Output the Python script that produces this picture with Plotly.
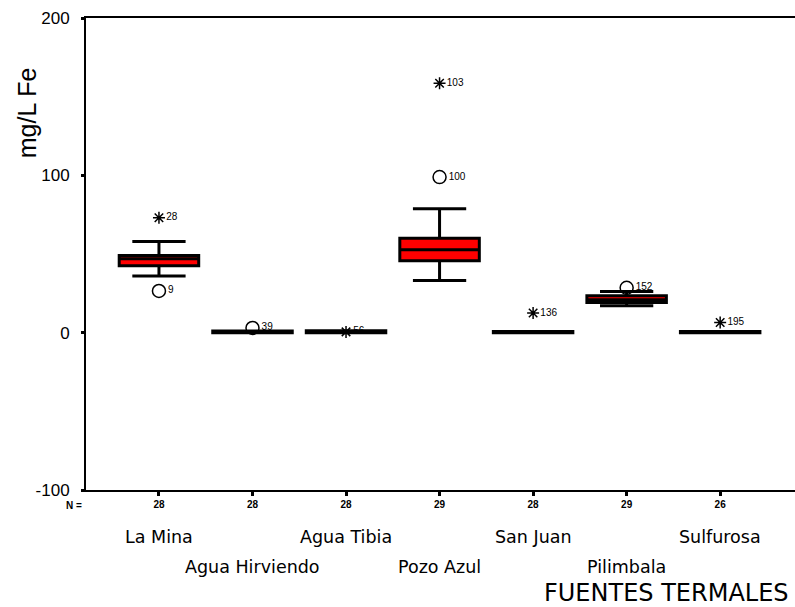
import plotly.graph_objects as go

categories = ["La Mina", "Agua Hirviendo", "Agua Tibia", "Pozo Azul", "San Juan", "Pilimbala", "Sulfurosa"]
n_counts = ["28", "28", "28", "29", "28", "29", "26"]
q1 = [42.5, 0.0, 0.0, 45.7, 0.0, 19.2, 0.0]
median = [47.0, 0.0, 0.3, 52.7, 0.0, 21.0, 0.0]
q3 = [49.0, 1.0, 1.2, 60.0, 0.8, 23.5, 0.8]
lower_whisker = [36.0, 0.0, 0.0, 33.2, 0.0, 17.1, 0.0]
upper_whisker = [58.0, 1.0, 1.2, 78.7, 0.8, 26.2, 0.8]

# outliers (circles) and extremes (asterisks): category index, value, case label
outlier_cat = [0, 1, 3, 5]
outlier_val = [26.5, 3.0, 98.9, 28.5]
outlier_lbl = ["9", "39", "100", "152"]
extreme_cat = [0, 2, 3, 4, 6]
extreme_val = [73.0, 0.5, 158.5, 12.5, 6.5]
extreme_lbl = ["28", "56", "103", "136", "195"]

y_ticks = [-100, 0, 100, 200]
y_tick_text = ["-100", "0", "100", "200"]

FONT = "Liberation Sans, Arial, sans-serif"
WIDE = "DejaVu Sans, Verdana, sans-serif"
xs = list(range(len(categories)))

fig = go.Figure()
for i in xs:
    fig.add_trace(go.Box(
        x=[i], q1=[q1[i]], median=[median[i]], q3=[q3[i]],
        lowerfence=[lower_whisker[i]], upperfence=[upper_whisker[i]],
        width=0.85, whiskerwidth=0.67,
        fillcolor="#ff0000", line=dict(color="black", width=3),
        boxpoints=False, showlegend=False, hoverinfo="skip",
    ))

fig.add_trace(go.Scatter(
    x=outlier_cat, y=outlier_val, mode="markers+text",
    text=outlier_lbl, textposition="middle right",
    textfont=dict(family=FONT, size=10, color="black"),
    marker=dict(symbol="circle-open", size=13, color="black", line=dict(width=1.5)),
    showlegend=False, cliponaxis=False,
))
fig.add_trace(go.Scatter(
    x=extreme_cat, y=extreme_val, mode="markers+text",
    text=extreme_lbl, textposition="middle right",
    textfont=dict(family=FONT, size=10, color="black"),
    marker=dict(symbol="asterisk-open", size=10, color="black", line=dict(width=1.5, color="black")),
    showlegend=False, cliponaxis=False,
))

annotations = []
for i, name in enumerate(categories):
    annotations.append(dict(
        x=i, y=-0.0996 if i % 2 == 0 else -0.163, xref="x", yref="paper",
        text=name, showarrow=False, xanchor="center", yanchor="middle",
        font=dict(family=WIDE, size=17.5, color="black"),
    ))
annotations.append(dict(x=-0.017, y=-0.032, xref="paper", yref="paper", text="<b>N =</b>",
                        showarrow=False, xanchor="center", yanchor="middle",
                        font=dict(family=FONT, size=10, color="black")))
annotations.append(dict(x=0.995, y=-0.218, xref="paper", yref="paper", text="FUENTES TERMALES",
                        showarrow=False, xanchor="right", yanchor="middle",
                        font=dict(family=WIDE, size=24, color="black")))
annotations.append(dict(x=-0.082, y=0.8, xref="paper", yref="paper", text="mg/L Fe",
                        showarrow=False, textangle=-90, xanchor="center", yanchor="middle",
                        font=dict(family=FONT, size=25, color="black")))

fig.update_layout(
    width=795, height=607,
    margin=dict(l=86, r=0, t=18, b=117),
    paper_bgcolor="white", plot_bgcolor="white",
    font=dict(family=FONT, color="black"),
    annotations=annotations,
    xaxis=dict(
        range=[-0.78, 6.8], tickvals=xs, ticktext=["<b>%s</b>" % n for n in n_counts],
        ticks="outside", ticklen=4, tickwidth=3, tickcolor="black",
        tickfont=dict(family=FONT, size=10, color="black"),
        showline=True, linecolor="black", linewidth=2, mirror=True,
        showgrid=False, zeroline=False,
    ),
    yaxis=dict(
        range=[-100, 200], tickvals=y_ticks, ticktext=y_tick_text,
        ticks="outside", ticklen=3, tickwidth=3, tickcolor="black",
        tickfont=dict(family=FONT, size=17, color="black"),
        ticklabelstandoff=8,
        showline=True, linecolor="black", linewidth=2,
        showgrid=False, zeroline=False,
    ),
)

fig.write_html("out.html")
